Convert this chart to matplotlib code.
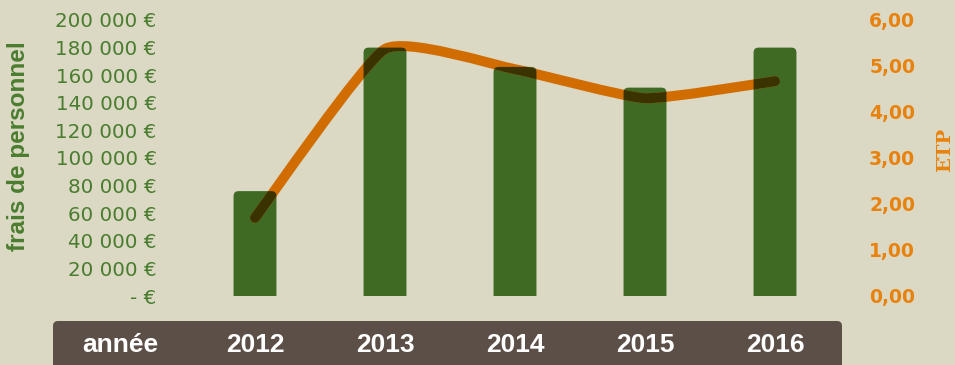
import matplotlib.pyplot as plt
import matplotlib.transforms as mtransforms
import numpy as np
from matplotlib.patches import FancyBboxPatch, PathPatch
from matplotlib.path import Path
from matplotlib.ticker import FuncFormatter, MultipleLocator

# data
years = ['2012', '2013', '2014', '2015', '2016']
frais = [76000, 180000, 166000, 151000, 180000]
etp = [1.70, 5.37, 4.93, 4.30, 4.67]
x_label = 'année'

BG = '#dbd9c4'
GREEN = '#3e6a24'
GREEN_TXT = '#4b7d30'
ORANGE = '#d06c00'
ORANGE_TXT = '#e8820c'
DARK = '#3a3300'
BAND = '#5c4f48'

fig = plt.figure(figsize=(9.55, 3.65), dpi=100, facecolor=BG)
ax = fig.add_axes([190 / 955, 69 / 365, 650 / 955, 276 / 365])
ax.set_facecolor(BG)
ax.set_xlim(-0.5, len(years) - 0.5)
ax.set_ylim(0, 200000)
ax2 = ax.twinx()
ax2.set_ylim(0, 6)

for a in (ax, ax2):
    for s in a.spines.values():
        s.set_visible(False)
    a.tick_params(length=0)
ax.set_xticks([])

ax.yaxis.set_major_locator(MultipleLocator(20000))
ax.yaxis.set_major_formatter(FuncFormatter(
    lambda v, p: '- €' if v == 0 else f'{v:,.0f}'.replace(',', ' ') + ' €'))
ax.tick_params(axis='y', labelsize=14.3, labelcolor=GREEN_TXT, pad=24)
ax2.yaxis.set_major_locator(MultipleLocator(1))
ax2.yaxis.set_major_formatter(FuncFormatter(lambda v, p: f'{v:.2f}'.replace('.', ',')))
ax2.tick_params(axis='y', labelsize=13.5, labelcolor=ORANGE_TXT, pad=21)
for t in ax2.get_yticklabels():
    t.set_fontweight('bold')

# rounded-top bars
xs = np.arange(len(years))
bar_w = 0.33
r_px = 5
px_x = 5 / 650
px_y = 200000 / 276
rx = r_px * px_x
ry = r_px * px_y
bars = []
for xi, v in zip(xs, frais):
    b = FancyBboxPatch((xi - bar_w / 2, -ry), bar_w, v + ry,
                       boxstyle=f'round,pad=0,rounding_size={rx}',
                       mutation_aspect=px_y / px_x,
                       facecolor=GREEN, edgecolor='none', zorder=2)
    ax.add_patch(b)
    bars.append(b)

# smoothed ETP line (low-tension bezier through the points)
tension = 0.08
pts = np.column_stack([xs, etp]).astype(float)
verts = [pts[0]]
codes = [Path.MOVETO]
for i in range(len(pts) - 1):
    p0 = pts[i - 1] if i > 0 else pts[i]
    p1, p2 = pts[i], pts[i + 1]
    p3 = pts[i + 2] if i + 2 < len(pts) else pts[i + 1]
    verts += [p1 + (p2 - p0) * tension, p2 - (p3 - p1) * tension, p2]
    codes += [Path.CURVE4] * 3
path = Path(verts, codes)
ax2.add_patch(PathPatch(path, fill=False, edgecolor=ORANGE, lw=7.2,
                        capstyle='round', joinstyle='round', zorder=3))
for b in bars:
    dark = PathPatch(path, fill=False, edgecolor=DARK, lw=7.2,
                     capstyle='round', joinstyle='round', zorder=4)
    ax2.add_patch(dark)
    dark.set_clip_path(b)

# axis titles
fig.text(19 / 955, 1 - 146 / 365, 'frais de personnel', rotation=90,
         ha='center', va='center', color=GREEN_TXT, fontsize=17.5,
         fontweight='bold', family='Liberation Sans')
fig.text(954 / 955, 1 - 150 / 365, 'ETP', rotation=90, ha='right', va='center',
         color=ORANGE_TXT, fontsize=14, fontweight='bold', family='DejaVu Serif')

# bottom band with the years
band = FancyBboxPatch((0.53, -0.2), 7.89, 0.64,
                      boxstyle='round,pad=0,rounding_size=0.05',
                      transform=fig.dpi_scale_trans, facecolor=BAND,
                      edgecolor='none')
fig.patches.append(band)
band_tr = mtransforms.blended_transform_factory(ax.transData, fig.transFigure)
for xi, y in zip(xs, years):
    fig.text(xi, 13 / 365, y, transform=band_tr, ha='center', va='baseline',
             color='white', fontsize=19, fontweight='bold', family='Liberation Sans')
fig.text(120 / 955, 13 / 365, x_label, ha='center', va='baseline',
         color='white', fontsize=19, fontweight='bold', family='Liberation Sans')

fig.savefig('out.png', dpi=100, facecolor=BG)
